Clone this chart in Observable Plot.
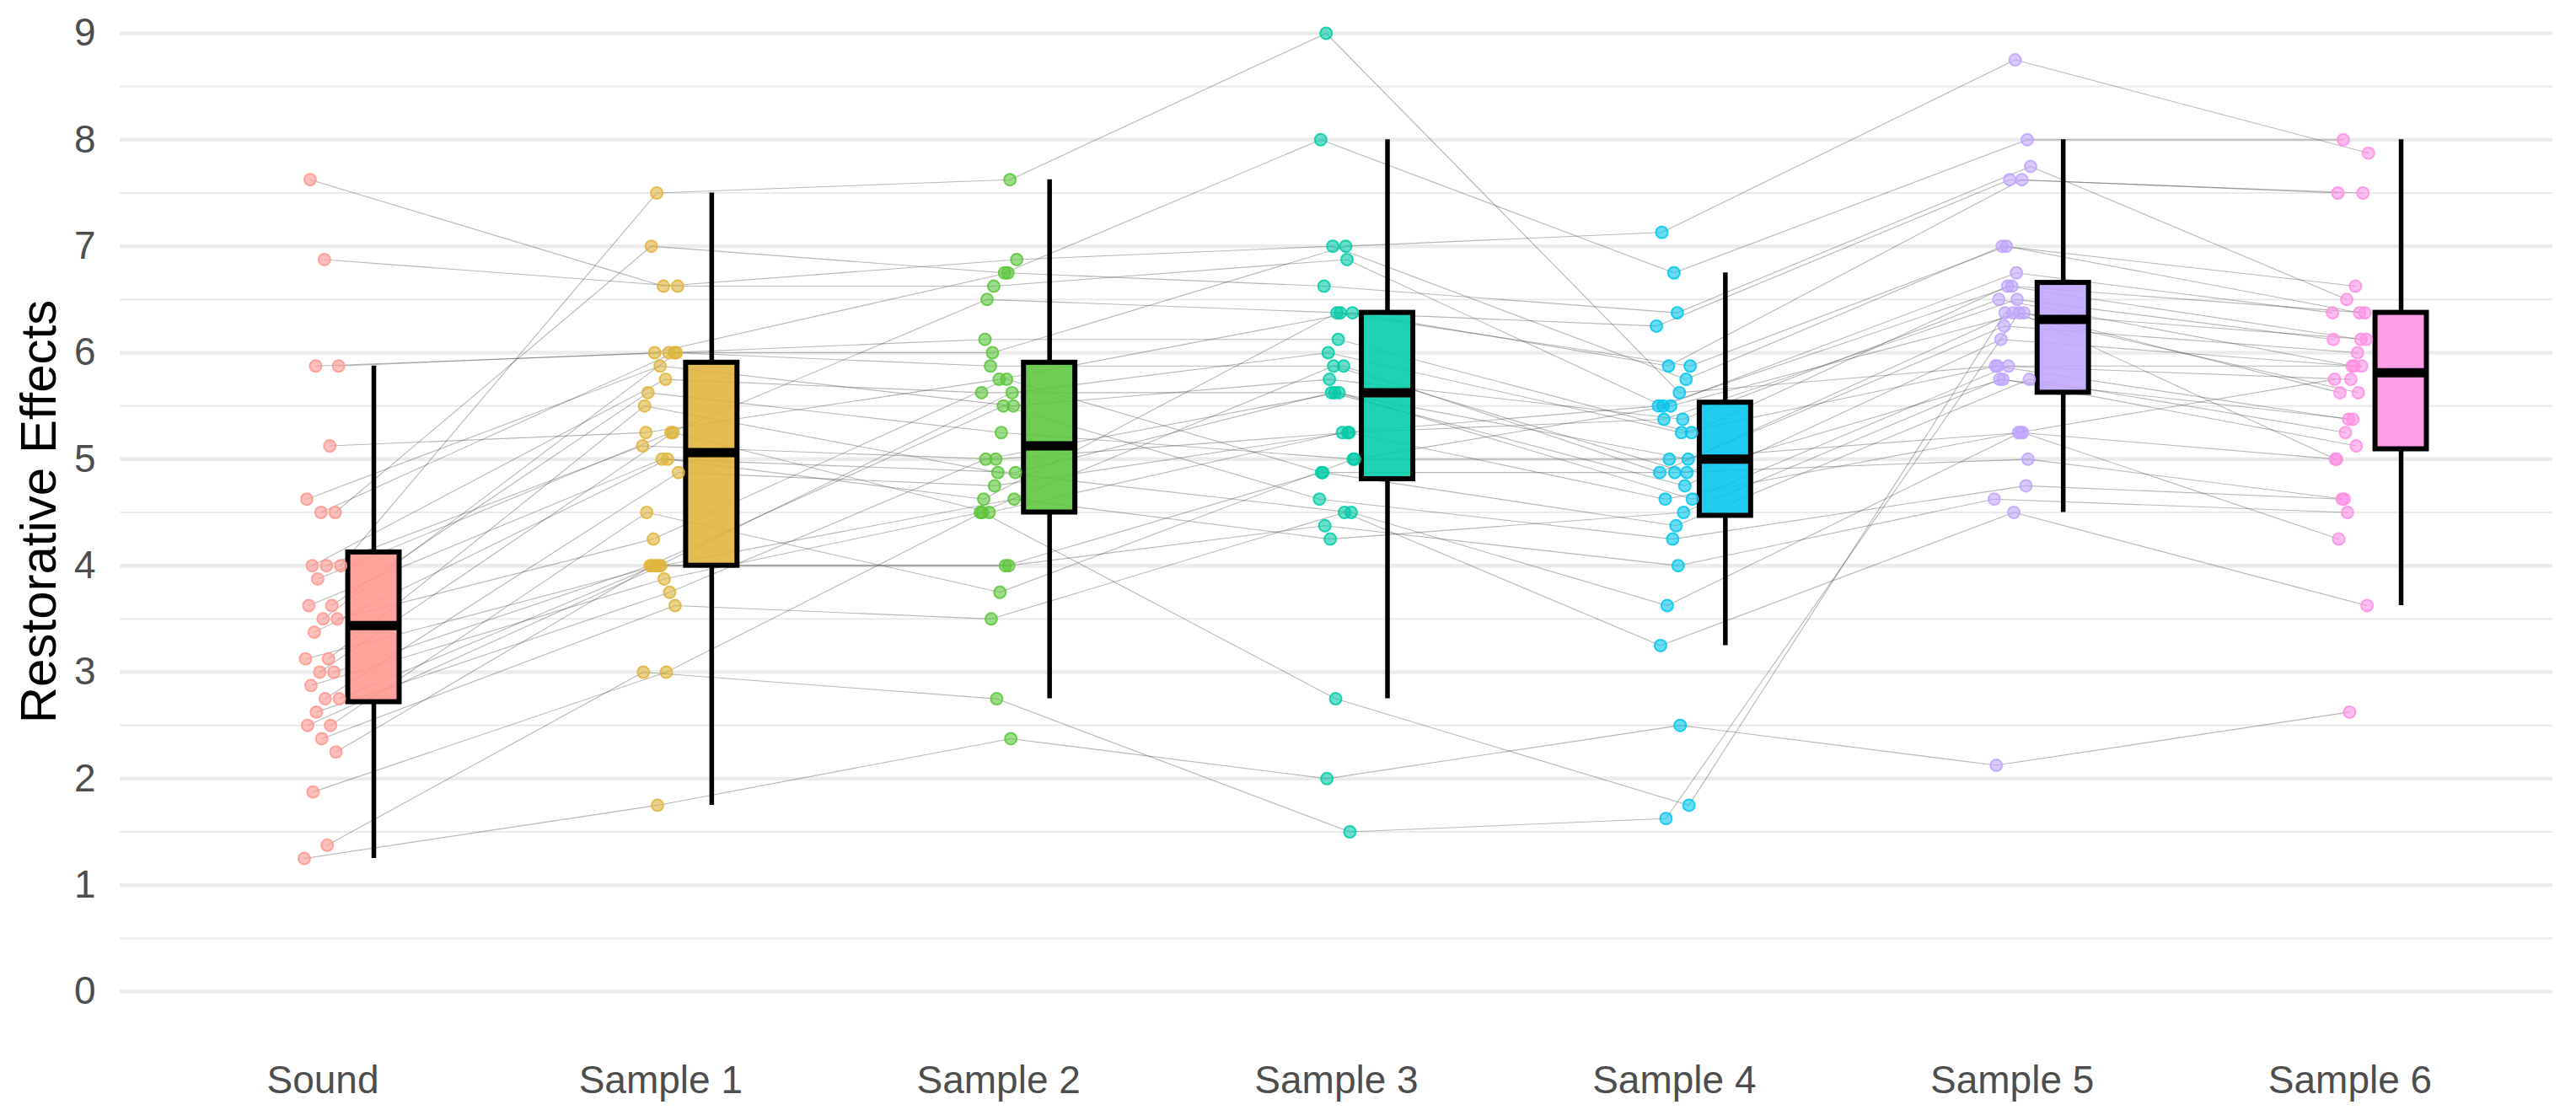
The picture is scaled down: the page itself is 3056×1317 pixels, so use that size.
<!DOCTYPE html>
<html>
<head>
<meta charset="utf-8">
<script src="https://cdn.jsdelivr.net/npm/d3@7"></script>
<script src="https://cdn.jsdelivr.net/npm/@observablehq/plot@0.6"></script>
<style>
  html, body { margin: 0; padding: 0; background: #ffffff; }
  svg { display: block; }
</style>
</head>
<body>
<div id="chart"></div>
<script>
// Categories (x axis)
const categories = ["Sound", "Sample 1", "Sample 2", "Sample 3", "Sample 4", "Sample 5", "Sample 6"];
const colors = ["#FF968E", "#E0B43A", "#5AC63A", "#00CCA6", "#00C6EE", "#BFA5FF", "#FF8FE2"];
const yTicks = [0, 1, 2, 3, 4, 5, 6, 7, 8, 9];
const yMinorTicks = [0.5, 1.5, 2.5, 3.5, 4.5, 5.5, 6.5, 7.5, 8.5];
const yLabel = "Restorative Effects";

// One value per participant (same index = same participant across conditions)
const sound   = [1.25, 1.375, 1.875, 2.25, 2.375, 2.5, 2.5, 2.625, 2.75, 2.75, 2.875, 3, 3, 3.125, 3.125, 3.375, 3.5, 3.5, 3.625, 3.625, 3.875, 4, 4, 4, 4.5, 4.5, 4.625, 5.125, 5.875, 5.875, 6.875, 7.625];
const sample1 = [1.75, 3, 3, 4, 3.625, 4, 4.5, 3.75, 4, 4.875, 3.875, 4, 5.25, 4, 5.5, 5, 4.25, 6, 5, 5.625, 5.25, 7.5, 5.125, 5.75, 7, 6, 5.875, 5.25, 6, 6, 6.625, 6.625];
const sample2 = [2.375, 2.75, 4.5, 4, 3.5, 4.625, 3.75, 5, 4, 4.75, 4.5, 5.5, 4.5, 5.625, 4.875, 4.625, 5.75, 6, 4.875, 5.25, 6.5, 7.625, 5, 5.625, 6.75, 5.875, 5.5, 5.75, 6.125, 6.75, 6.625, 6.875];
const sample3 = [2.0, 1.5, 2.75, 4.875, 4.5, 4.25, 5.0, 5.625, 4.375, 5.25, 5.875, 4.625, 5.25, 6.0, 4.5, 6.375, 4.875, 7.0, 5.625, 5.0, 6.375, 9.0, 5.25, 5.625, 8.0, 5.875, 5.75, 6.375, 6.125, 6.625, 6.875, 7.0];
const sample4 = [2.5, 1.625, 1.75, 4.875, 3.25, 4.5, 5.0, 4.625, 4.0, 5.375, 4.875, 4.25, 5.5, 5.25, 3.625, 5.875, 4.375, 7.13, 4.75, 5.5, 6.25, 5.625, 4.625, 5.0, 6.75, 4.875, 5.375, 5.875, 5.25, 6.375, 5.5, 5.75];
const sample5 = [2.125, 6.375, 6.375, 5.0, 4.5, 5.75, 5.25, 5.875, 4.625, 6.5, 5.75, 4.75, 6.625, 5.875, 5.25, 7.0, 5.75, 8.75, 6.125, 6.375, 7.625, 5.875, 5.25, 6.25, 8.0, 6.375, 6.5, 7.625, 6.625, 7.75, 6.75, 7.0];
const sample6 = [2.625, 5.0, 5.625, 4.625, 3.625, 5.375, 4.25, 5.875, 4.5, 6.125, 5.125, 4.625, 6.375, 5.75, 5.0, 6.375, 5.25, 7.875, 5.875, 5.625, 7.5, 5.375, 5.75, 6.0, 8.0, 6.125, 5.875, 7.5, 6.125, 6.5, 6.375, 6.625];

const series = [sound, sample1, sample2, sample3, sample4, sample5, sample6];

// deterministic horizontal jitter (layout only)
function jitter(p, c) {
  const h = (p * 0.6180339887 + c * 0.4142135624) % 1;
  return (h * 2 - 1) * 0.055;
}

const long = [];
series.forEach((vals, c) => {
  vals.forEach((v, p) => {
    long.push({p, c, x: c + 1 + jitter(p, c), y: v, color: colors[c]});
  });
});

const boxOffset = 0.151, boxHalf = 0.076;
const stats = series.map((vals, c) => {
  const s = vals.slice().sort(d3.ascending);
  const q1 = d3.quantile(s, 0.25), med = d3.quantile(s, 0.5), q3 = d3.quantile(s, 0.75);
  const iqr = q3 - q1;
  const lo = d3.min(s.filter(v => v >= q1 - 1.5 * iqr));
  const hi = d3.max(s.filter(v => v <= q3 + 1.5 * iqr));
  const cx = c + 1 + boxOffset;
  return {c, cx, x1: cx - boxHalf, x2: cx + boxHalf, q1, med, q3, lo, hi, color: colors[c]};
});

const chart = Plot.plot({
  width: 3056,
  height: 1317,
  marginLeft: 142,
  marginRight: 28,
  marginTop: 39,
  marginBottom: 141,
  x: {domain: [0.4, 7.6], axis: null},
  y: {domain: [0, 9], axis: null},
  style: {fontFamily: "'Liberation Sans', Arial, sans-serif", background: "#ffffff"},
  marks: [
    Plot.ruleY(yMinorTicks, {stroke: "#EBEBEB", strokeWidth: 2.2}),
    Plot.ruleY(yTicks, {stroke: "#EBEBEB", strokeWidth: 4.5}),
    Plot.axisY({ticks: yTicks, tickSize: 0, tickPadding: 29, fontSize: 46, color: "#4D4D4D", label: null}),
    Plot.axisX({ticks: [1, 2, 3, 4, 5, 6, 7], tickFormat: i => categories[i - 1], tickSize: 0, tickPadding: 88, fontSize: 46, color: "#4D4D4D", label: null}),
    Plot.line(long, {x: "x", y: "y", z: "p", stroke: "#444444", strokeOpacity: 0.38, strokeWidth: 1.1}),
    Plot.ruleX(stats, {x: "cx", y1: "lo", y2: "q1", stroke: "#000000", strokeWidth: 5.5}),
    Plot.ruleX(stats, {x: "cx", y1: "q3", y2: "hi", stroke: "#000000", strokeWidth: 5.5}),
    Plot.rect(stats, {x1: "x1", x2: "x2", y1: "q1", y2: "q3", fill: "color", fillOpacity: 0.88, stroke: "#000000", strokeWidth: 6}),
    Plot.ruleY(stats, {x1: "x1", x2: "x2", y: "med", stroke: "#000000", strokeWidth: 11}),
    Plot.dot(long, {x: "x", y: "y", r: 7, fill: "color", fillOpacity: 0.6, stroke: "color", strokeOpacity: 0.85, strokeWidth: 2})
  ]
});

// y axis title
d3.select(chart).append("text")
  .attr("transform", "translate(45,607) rotate(-90)")
  .attr("text-anchor", "middle")
  .attr("dominant-baseline", "central")
  .attr("font-family", "'Liberation Sans', Arial, sans-serif")
  .attr("font-size", 60)
  .attr("fill", "#000000")
  .text(yLabel);

document.getElementById("chart").appendChild(chart);
</script>
</body>
</html>
